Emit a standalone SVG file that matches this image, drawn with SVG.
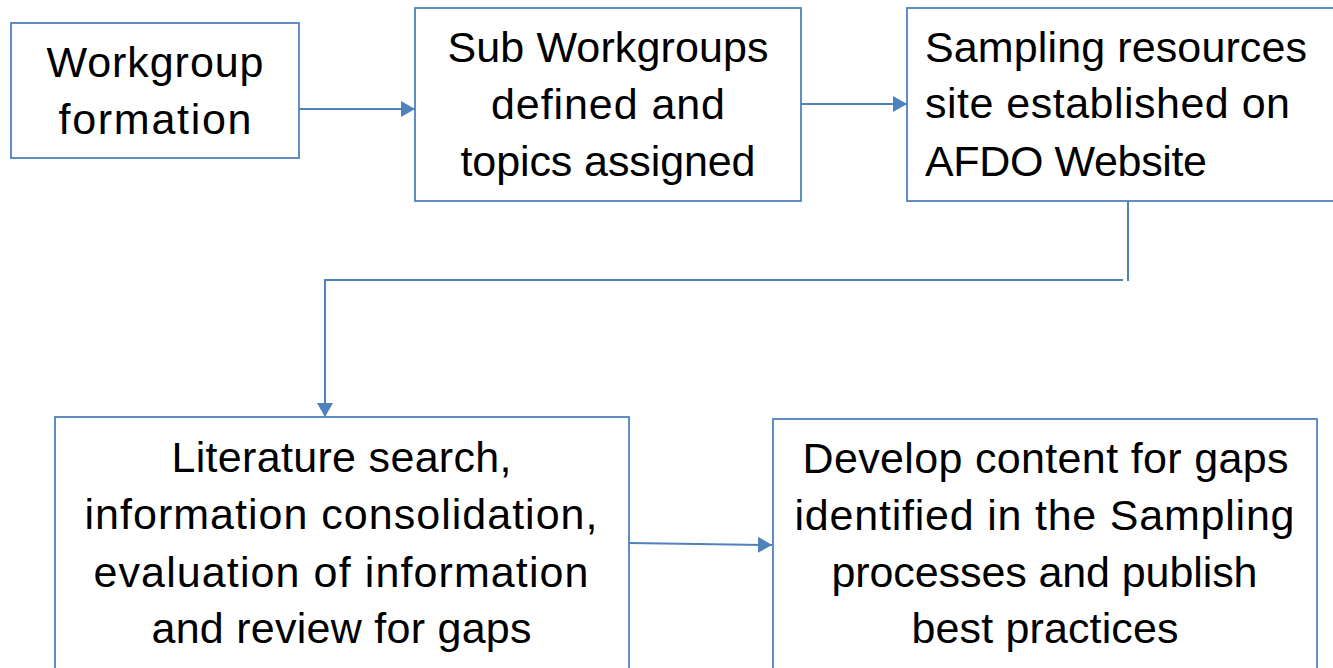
<svg xmlns="http://www.w3.org/2000/svg" width="1333" height="668" viewBox="0 0 1333 668">
  <style>
    .box { fill: #ffffff; stroke: #4f81bd; stroke-width: 1.8; }
    .link { fill: none; stroke: #4f81bd; stroke-width: 2; }
    .label { font-family: "Liberation Sans", Arial, sans-serif; font-size: 43px; fill: #000000; }
    .mid { text-anchor: middle; }
  </style>
  <defs>
    <marker id="arrow" markerUnits="userSpaceOnUse" markerWidth="16" markerHeight="16" refX="14" refY="8" orient="auto">
      <path d="M0,0 L14,8 L0,16 Z" fill="#4f81bd"/>
    </marker>
  </defs>
  <rect width="1333" height="668" fill="#ffffff"/>

  <g id="connectors">
    <path class="link" d="M299,109 H415" marker-end="url(#arrow)"/>
    <path class="link" d="M801,104 H907" marker-end="url(#arrow)"/>
    <path class="link" d="M1128,201 V281"/>
    <path class="link" d="M1123,280 H325 V417" marker-end="url(#arrow)"/>
    <path class="link" d="M629,543 L772,545" marker-end="url(#arrow)"/>
  </g>

  <g id="workgroup-formation">
    <rect class="box" x="11" y="23" width="288" height="135"/>
    <text class="label mid" x="155" y="77" textLength="217">Workgroup</text>
    <text class="label mid" x="155" y="134" textLength="193">formation</text>
  </g>

  <g id="sub-workgroups">
    <rect class="box" x="415" y="8" width="386" height="193"/>
    <text class="label mid" x="608" y="62" textLength="321">Sub Workgroups</text>
    <text class="label mid" x="608" y="119" textLength="234">defined and</text>
    <text class="label mid" x="608" y="176" textLength="295">topics assigned</text>
  </g>

  <g id="resources-site">
    <rect class="box" x="907" y="8" width="440" height="193"/>
    <text class="label" x="925" y="62" textLength="382">Sampling resources</text>
    <text class="label" x="925" y="118" textLength="365">site established on</text>
    <text class="label" x="925" y="176" textLength="282">AFDO Website</text>
  </g>

  <g id="literature-search">
    <rect class="box" x="55" y="417" width="574" height="270"/>
    <text class="label mid" x="341.5" y="472" textLength="340">Literature search,</text>
    <text class="label mid" x="341" y="529" textLength="513">information consolidation,</text>
    <text class="label mid" x="341" y="587" textLength="495">evaluation of information</text>
    <text class="label mid" x="341.5" y="643" textLength="380">and review for gaps</text>
  </g>

  <g id="develop-content">
    <rect class="box" x="773" y="419" width="544" height="270"/>
    <text class="label mid" x="1045.5" y="473" textLength="486">Develop content for gaps</text>
    <text class="label mid" x="1044.5" y="530" textLength="500">identified in the Sampling</text>
    <text class="label mid" x="1044.5" y="587" textLength="426">processes and publish</text>
    <text class="label mid" x="1045" y="643" textLength="267">best practices</text>
  </g>
</svg>
